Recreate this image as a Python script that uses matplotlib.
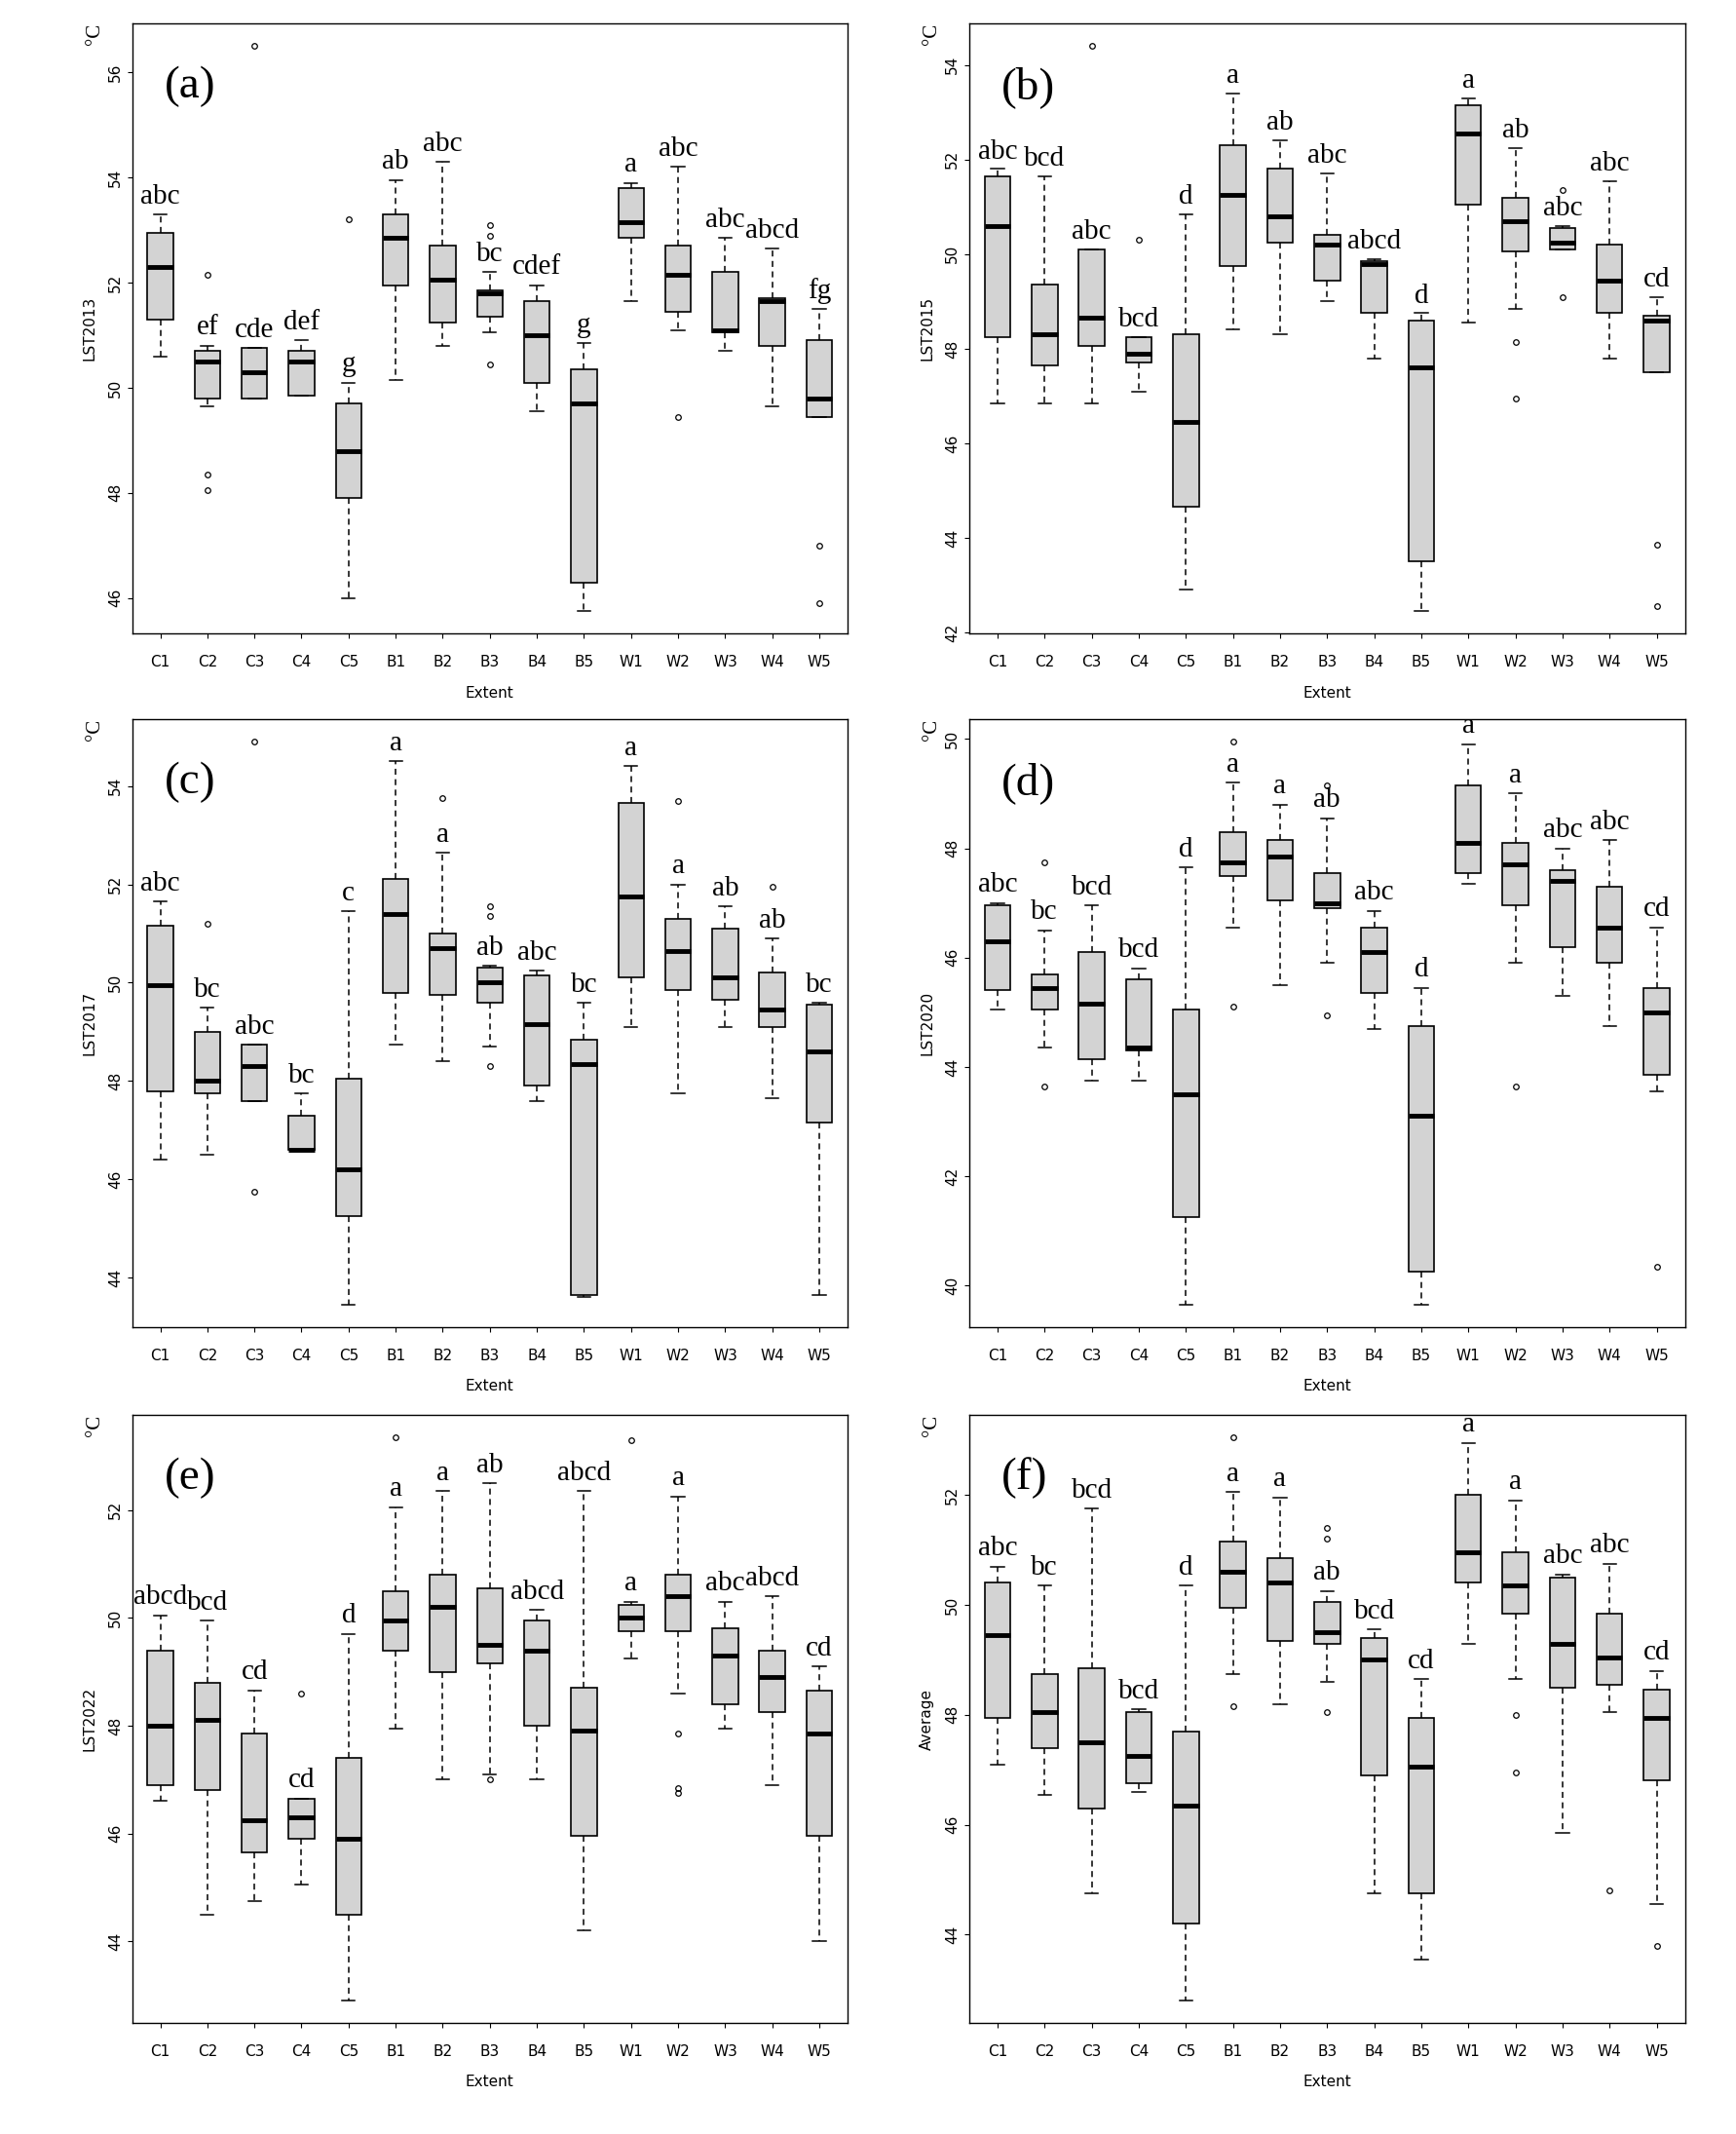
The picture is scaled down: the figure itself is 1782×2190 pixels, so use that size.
import matplotlib
matplotlib.use("Agg")
import matplotlib.pyplot as plt
from matplotlib.ticker import MultipleLocator

# === DATA ====================================================================
groups = ["C1", "C2", "C3", "C4", "C5", "B1", "B2", "B3", "B4", "B5",
          "W1", "W2", "W3", "W4", "W5"]
panel_tags = ["(a)", "(b)", "(c)", "(d)", "(e)", "(f)"]
ylabels = ["LST2013", "LST2015", "LST2017", "LST2020", "LST2022", "Average"]

# each row: whislo, q1, med, q3, whishi
a_stats = [[50.6, 51.3, 52.3, 52.95, 53.3], [49.65, 49.8, 50.5, 50.7, 50.8],
           [49.8, 49.8, 50.3, 50.75, 50.75], [49.85, 49.85, 50.5, 50.7, 50.9],
           [46.0, 47.9, 48.8, 49.7, 50.1], [50.15, 51.95, 52.85, 53.3, 53.95],
           [50.8, 51.25, 52.05, 52.7, 54.3], [51.05, 51.35, 51.8, 51.85, 52.2],
           [49.55, 50.1, 51.0, 51.65, 51.95], [45.75, 46.3, 49.7, 50.35, 50.85],
           [51.65, 52.85, 53.15, 53.8, 53.9], [51.1, 51.45, 52.15, 52.7, 54.2],
           [50.7, 51.05, 51.1, 52.2, 52.85], [49.65, 50.8, 51.65, 51.7, 52.65],
           [49.45, 49.45, 49.8, 50.9, 51.5]]
a_fliers = [[], [52.15, 48.35, 48.05], [56.5], [], [53.2], [], [],
            [53.1, 52.9, 50.45], [], [], [], [49.45], [], [], [47.0, 45.9]]
a_letters = ["abc", "ef", "cde", "def", "g", "ab", "abc", "bc", "cdef", "g",
             "a", "abc", "abc", "abcd", "fg"]

b_stats = [[46.85, 48.25, 50.6, 51.65, 51.8], [46.85, 47.65, 48.3, 49.35, 51.65],
           [46.85, 48.05, 48.65, 50.1, 50.1], [47.1, 47.7, 47.9, 48.25, 48.25],
           [42.9, 44.65, 46.45, 48.3, 50.85], [48.4, 49.75, 51.25, 52.3, 53.4],
           [48.3, 50.25, 50.8, 51.8, 52.4], [49.0, 49.45, 50.2, 50.4, 51.7],
           [47.8, 48.75, 49.8, 49.85, 49.9], [42.45, 43.5, 47.6, 48.6, 48.75],
           [48.55, 51.05, 52.55, 53.15, 53.3], [48.85, 50.05, 50.7, 51.2, 52.25],
           [50.1, 50.1, 50.25, 50.55, 50.6], [47.8, 48.75, 49.45, 50.2, 51.55],
           [47.5, 47.5, 48.6, 48.7, 49.1]]
b_fliers = [[], [], [54.4], [50.3], [], [], [], [], [], [], [],
            [48.15, 46.95], [51.35, 49.1], [], [43.85, 42.55]]
b_letters = ["abc", "bcd", "abc", "bcd", "d", "a", "ab", "abc", "abcd", "d",
             "a", "ab", "abc", "abc", "cd"]

c_stats = [[46.4, 47.8, 49.95, 51.15, 51.65], [46.5, 47.75, 48.0, 49.0, 49.5],
           [47.6, 47.6, 48.3, 48.75, 48.75], [46.6, 46.6, 46.6, 47.3, 47.75],
           [43.45, 45.25, 46.2, 48.05, 51.45], [48.75, 49.8, 51.4, 52.1, 54.5],
           [48.4, 49.75, 50.7, 51.0, 52.65], [48.7, 49.6, 50.0, 50.3, 50.35],
           [47.6, 47.9, 49.15, 50.15, 50.25], [43.6, 43.65, 48.35, 48.85, 49.6],
           [49.1, 50.1, 51.75, 53.65, 54.4], [47.75, 49.85, 50.65, 51.3, 52.0],
           [49.1, 49.65, 50.1, 51.1, 51.55], [47.65, 49.1, 49.45, 50.2, 50.9],
           [43.65, 47.15, 48.6, 49.55, 49.6]]
c_fliers = [[], [51.2], [54.9, 45.75], [], [], [], [53.75], [51.55, 51.35, 48.3],
            [], [], [], [53.7], [], [51.95], []]
c_letters = ["abc", "bc", "abc", "bc", "c", "a", "a", "ab", "abc", "bc",
             "a", "a", "ab", "ab", "bc"]

d_stats = [[45.05, 45.4, 46.3, 46.95, 47.0], [44.35, 45.05, 45.45, 45.7, 46.5],
           [43.75, 44.15, 45.15, 46.1, 46.95], [43.75, 44.3, 44.35, 45.6, 45.8],
           [39.65, 41.25, 43.5, 45.05, 47.65], [46.55, 47.5, 47.75, 48.3, 49.2],
           [45.5, 47.05, 47.85, 48.15, 48.8], [45.9, 46.9, 47.0, 47.55, 48.55],
           [44.7, 45.35, 46.1, 46.55, 46.85], [39.65, 40.25, 43.1, 44.75, 45.45],
           [47.35, 47.55, 48.1, 49.15, 49.9], [45.9, 46.95, 47.7, 48.1, 49.0],
           [45.3, 46.2, 47.4, 47.6, 48.0], [44.75, 45.9, 46.55, 47.3, 48.15],
           [43.55, 43.85, 45.0, 45.45, 46.55]]
d_fliers = [[], [47.75, 43.65], [], [], [], [49.95, 45.1], [], [49.15, 44.95],
            [], [], [], [43.65], [], [], [40.35]]
d_letters = ["abc", "bc", "bcd", "bcd", "d", "a", "a", "ab", "abc", "d",
             "a", "a", "abc", "abc", "cd"]

e_stats = [[46.6, 46.9, 48.0, 49.4, 50.05], [44.5, 46.8, 48.1, 48.8, 49.95],
           [44.75, 45.65, 46.25, 47.85, 48.65], [45.05, 45.9, 46.3, 46.65, 46.65],
           [42.9, 44.5, 45.9, 47.4, 49.7], [47.95, 49.4, 49.95, 50.5, 52.05],
           [47.0, 49.0, 50.2, 50.8, 52.35], [47.1, 49.15, 49.5, 50.55, 52.5],
           [47.0, 48.0, 49.4, 49.95, 50.15], [44.2, 45.95, 47.9, 48.7, 52.35],
           [49.25, 49.75, 50.0, 50.25, 50.3], [48.6, 49.75, 50.4, 50.8, 52.25],
           [47.95, 48.4, 49.3, 49.8, 50.3], [46.9, 48.25, 48.9, 49.4, 50.4],
           [44.0, 45.95, 47.85, 48.65, 49.1]]
e_fliers = [[], [], [], [48.6], [], [53.35], [], [47.0], [], [], [53.3],
            [47.85, 46.85, 46.75], [], [], []]
e_letters = ["abcd", "bcd", "cd", "cd", "d", "a", "a", "ab", "abcd", "abcd",
             "a", "a", "abc", "abcd", "cd"]

f_stats = [[47.1, 47.95, 49.45, 50.4, 50.7], [46.55, 47.4, 48.05, 48.75, 50.35],
           [44.75, 46.3, 47.5, 48.85, 51.75], [46.6, 46.75, 47.25, 48.05, 48.1],
           [42.8, 44.2, 46.35, 47.7, 50.35], [48.75, 49.95, 50.6, 51.15, 52.05],
           [48.2, 49.35, 50.4, 50.85, 51.95], [48.6, 49.3, 49.5, 50.05, 50.25],
           [44.75, 46.9, 49.0, 49.4, 49.55], [43.55, 44.75, 47.05, 47.95, 48.65],
           [49.3, 50.4, 50.95, 52.0, 52.95], [48.65, 49.85, 50.35, 50.95, 51.9],
           [45.85, 48.5, 49.3, 50.5, 50.55], [48.05, 48.55, 49.05, 49.85, 50.75],
           [44.55, 46.8, 47.95, 48.45, 48.8]]
f_fliers = [[], [], [], [], [], [53.05, 48.15], [], [51.4, 51.2, 48.05], [],
            [], [], [48.0, 46.95], [], [44.8], [43.8]]
f_letters = ["abc", "bc", "bcd", "bcd", "d", "a", "a", "ab", "bcd", "cd",
             "a", "a", "abc", "abc", "cd"]

panels = [(a_stats, a_fliers, a_letters), (b_stats, b_fliers, b_letters),
          (c_stats, c_fliers, c_letters), (d_stats, d_fliers, d_letters),
          (e_stats, e_fliers, e_letters), (f_stats, f_fliers, f_letters)]

# === LAYOUT ==================================================================
fig = plt.figure(figsize=(17.83, 21.9), dpi=100)
lefts = [0.076, 0.558]
rows = [(0.703, 0.989), (0.378, 0.663), (0.052, 0.337)]

for i, (stats, fliers, letters) in enumerate(panels):
    bot, top = rows[i // 2]
    ax = fig.add_axes([lefts[i % 2], bot, 0.412, top - bot])
    bxp = []
    for s, fl in zip(stats, fliers):
        bxp.append(dict(whislo=s[0], q1=s[1], med=s[2], q3=s[3], whishi=s[4],
                        fliers=fl))
    ax.bxp(bxp, positions=range(1, 16), widths=0.55, patch_artist=True,
           boxprops=dict(facecolor="#d3d3d3", edgecolor="black", lw=1.2),
           medianprops=dict(color="black", lw=3.5),
           whiskerprops=dict(ls=(0, (4, 3)), lw=1.1),
           capprops=dict(lw=1.1), capwidths=0.275,
           flierprops=dict(marker="o", ms=4, mfc="none", mec="black", mew=0.9))
    # R-style 4% extension of the data range
    allv = [v for s in stats for v in s] + [v for fl in fliers for v in fl]
    lo, hi = min(allv), max(allv)
    pad = 0.04 * (hi - lo)
    ax.set_ylim(lo - pad, hi + pad)
    ax.set_xlim(0.4, 15.6)
    ax.yaxis.set_major_locator(MultipleLocator(2))
    ax.set_xticks(range(1, 16))
    ax.set_xticklabels(groups, fontsize=11)
    ax.tick_params(axis="y", labelsize=11, labelrotation=90)
    ax.tick_params(axis="x", pad=12)
    for lab in ax.get_yticklabels():
        lab.set_va("center")
    ax.set_ylabel(ylabels[i], fontsize=11, labelpad=8)
    ax.set_xlabel("Extent", fontsize=11, labelpad=12)
    for k, (s, txt) in enumerate(zip(stats, letters)):
        ax.text(k + 1, s[4] + 0.1, txt, ha="center", va="bottom",
                fontsize=21, family="Liberation Serif")
    ax.text(0.045, 0.93, panel_tags[i], transform=ax.transAxes, fontsize=34,
            family="Liberation Serif", va="top")
    ax.text(-0.065, 1.0, "°C", transform=ax.transAxes, fontsize=15,
            family="Liberation Serif", va="top", rotation=90)
    for sp in ax.spines.values():
        sp.set_linewidth(1.0)

fig.savefig("out.png", dpi=100)
